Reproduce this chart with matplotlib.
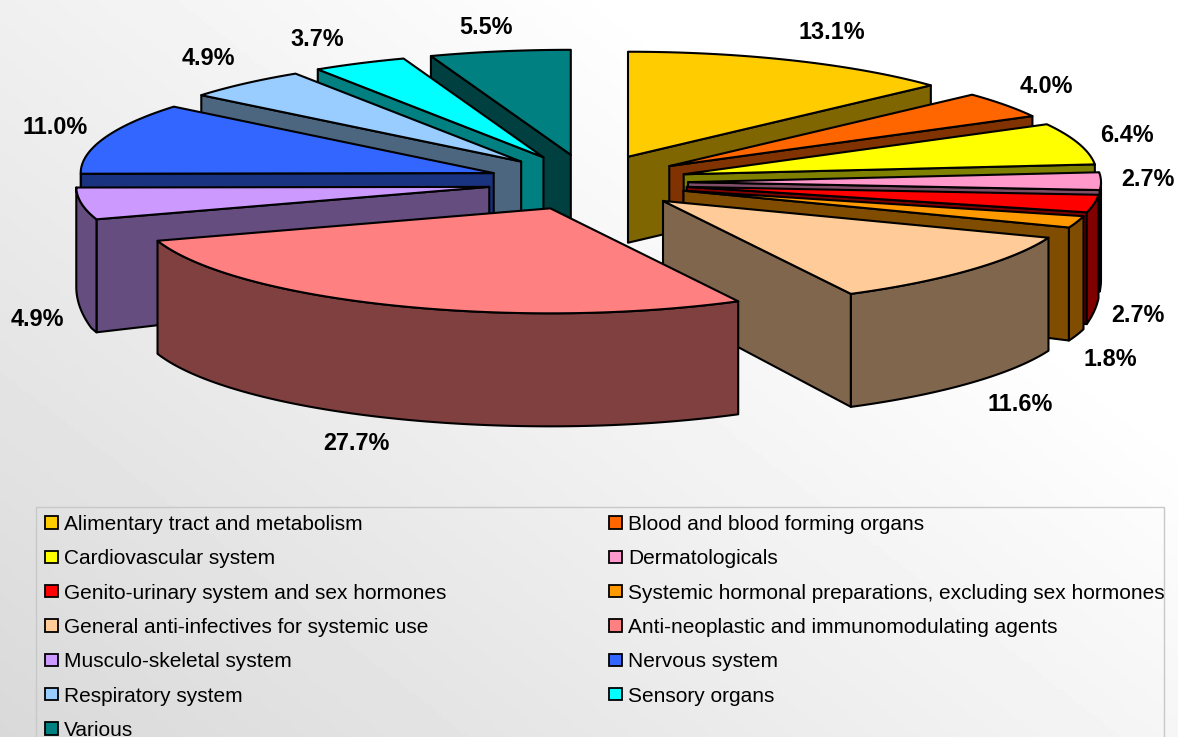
import numpy as np
import matplotlib
matplotlib.use("Agg")
import matplotlib.pyplot as plt
from matplotlib.patches import Polygon, Patch, Rectangle

categories = ["Alimentary tract and metabolism", "Blood and blood forming organs",
              "Cardiovascular system", "Dermatologicals",
              "Genito-urinary system and sex hormones",
              "Systemic hormonal preparations, excluding sex hormones",
              "General anti-infectives for systemic use",
              "Anti-neoplastic and immunomodulating agents",
              "Musculo-skeletal system", "Nervous system",
              "Respiratory system", "Sensory organs", "Various"]
values = [13.1, 4.0, 6.4, 2.7, 2.7, 1.8, 11.6, 27.7, 4.9, 11.0, 4.9, 3.7, 5.5]
colors = ["#FFCC00", "#FF6600", "#FFFF00", "#FF99CC", "#FF0000", "#FF9900", "#FFCC99",
          "#FF8080", "#CC99FF", "#3366FF", "#99CCFF", "#00FFFF", "#008080"]
label_xy = [(832, 32), (1046, 86), (1127, 135), (1148, 179), (1138, 315), (1110, 359),
            (1020, 404), (356, 443), (37, 319), (55, 127), (208, 58), (317, 39), (486, 27)]

W, H = 1178, 737
CX, CY = 588, 182.4       # pie centre on the page, pixels
RX, RY = 413, 105         # top ellipse radii
EX, EY = 100, 28          # explosion offset
plt.rcParams["font.family"] = ["Liberation Sans", "DejaVu Sans"]

fig = plt.figure(figsize=(W / 100, H / 100), dpi=100)
ax = fig.add_axes([0, 0, 1, 1])
ax.set_xlim(0, W)
ax.set_ylim(H, 0)
ax.axis("off")

# page background gradient
yy, xx = np.mgrid[0:1:200j, 0:1:320j]
grad = 0.85 + 0.15 * np.clip(0.6 + 0.75 * xx - 0.6 * yy, 0, 1)
ax.imshow(grad, cmap="gray", vmin=0, vmax=1, extent=(0, W, H, 0), aspect="auto", zorder=0)


def wall_height(y):
    return np.interp(y, [157, 215], [86, 113])


def shade(c):
    return tuple(0.5 * v for v in matplotlib.colors.to_rgb(c))


def x_radius(t):
    # the front-right of the pie is drawn slightly narrower than the rest
    return RX * (1 - 0.028 * np.clip(-np.cos(t), 0, 1) ** 2 * (np.sin(t) > 0))


vals = np.array(values, float)
edges = np.concatenate([[0], np.cumsum(vals)]) / vals.sum() * 2 * np.pi
mids = (edges[:-1] + edges[1:]) / 2
order = sorted(range(len(vals)), key=lambda i: -np.cos(mids[i]))
LW = 1.5
z = 2
for i in order:
    a0, a1 = edges[i], edges[i + 1]
    ax0 = CX + EX * np.sin(mids[i])
    ay0 = CY - EY * np.cos(mids[i])
    t = np.linspace(a0, a1, 80)
    ox = ax0 + x_radius(t) * np.sin(t)
    oy = ay0 - RY * np.cos(t)
    # radial walls: only the one that faces the viewer
    for (ex, ey), sign in (((ox[0], oy[0]), 1), ((ox[-1], oy[-1]), -1)):
        if sign * (-(ex - ax0)) > 0:
            poly = [(ax0, ay0), (ex, ey), (ex, ey + wall_height(ey)), (ax0, ay0 + wall_height(ay0))]
            ax.add_patch(Polygon(poly, fc=shade(colors[i]), ec="k", lw=LW, zorder=z, joinstyle="round"))
            z += 1
    # outer wall (front half only)
    front = np.cos(t) <= 0
    if front.any():
        fx, fy = ox[front], oy[front]
        poly = np.r_[np.c_[fx, fy], np.c_[fx, fy + wall_height(fy)][::-1]]
        ax.add_patch(Polygon(poly, fc=shade(colors[i]), ec="k", lw=LW, zorder=z, joinstyle="round"))
        z += 1
    top = np.r_[[[ax0, ay0]], np.c_[ox, oy]]
    ax.add_patch(Polygon(top, fc=colors[i], ec="k", lw=LW, zorder=z, joinstyle="round"))
    z += 1

for v, (lx, ly) in zip(values, label_xy):
    ax.text(lx, ly, f"{v:.1f}%", ha="center", va="center", fontsize=16.8,
            fontweight="bold", color="k", zorder=100)

# legend box (runs off the bottom of the page, as in the reference)
ax.add_patch(Rectangle((36, 507), 1128, 260, fc="none", ec="#c8c8c8", lw=1.0, zorder=99))

# legend, filled row by row
col1 = list(range(0, 13, 2))
col2 = list(range(1, 13, 2))
handles = [Patch(fc=colors[i], ec="k", lw=1.3) for i in col1 + col2]
labels = [categories[i] for i in col1 + col2]
leg = ax.legend(handles, labels, ncols=2, loc="upper left",
                bbox_to_anchor=(45 / W, 1 - 515 / H), bbox_transform=fig.transFigure,
                fontsize=15.0, frameon=False, borderaxespad=0, borderpad=0,
                labelspacing=0.735, handlelength=0.62, handleheight=0.53,
                handletextpad=0.29, columnspacing=7.8)
leg.set_zorder(101)

fig.savefig("out.png", dpi=100)
